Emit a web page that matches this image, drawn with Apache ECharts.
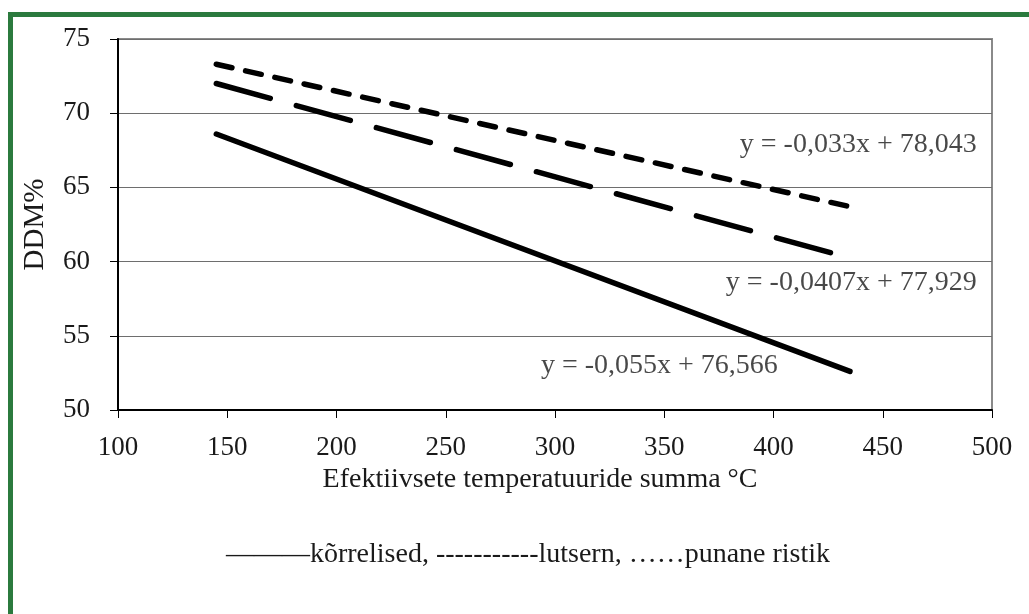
<!DOCTYPE html>
<html>
<head>
<meta charset="utf-8">
<script src="https://cdn.jsdelivr.net/npm/echarts@6/dist/echarts.min.js"></script>
<style>
html,body{margin:0;padding:0;background:#fff;}
#frame{position:absolute;left:8px;top:12px;width:1021px;height:602px;border-left:5px solid #2b7a3e;border-top:5px solid #2b7a3e;box-sizing:border-box;}
#chart{position:absolute;left:0;top:0;width:1029px;height:614px;}
</style>
</head>
<body>
<div id="frame"></div>
<div id="chart"></div>
<script>
// Data (trendline endpoints)
const korrelisedX = [145, 435];
const korrelisedY = [68.6, 52.6];
const lutsernX = [145, 431];
const lutsernY = [72.0, 60.4];
const ristikX = [145, 435];
const ristikY = [73.3, 63.7];

// Equation labels and their anchor (right edge / middle) in data coordinates
const eqTexts = ['y = -0,033x + 78,043', 'y = -0,0407x + 77,929', 'y = -0,055x + 76,566'];
const eqX = [493, 493, 402];
const eqY = [67.85, 58.6, 53.0];

const xTicks = [100, 150, 200, 250, 300, 350, 400, 450, 500];
const yTicks = [50, 55, 60, 65, 70, 75];

const xName = 'Efektiivsete temperatuuride summa °C';
const yName = 'DDM%';
const legendText = '———kõrrelised, -----------lutsern, ……punane ristik';

const FONT = '"Liberation Serif", "DejaVu Serif", serif';
const TXT = '#1a1a1a';

function pairs(xs, ys) { return xs.map((x, i) => [x, ys[i]]); }

const chart = echarts.init(document.getElementById('chart'), null, {renderer: 'canvas'});
chart.setOption({
  backgroundColor: 'transparent',
  animation: false,
  grid: {left: 118, right: 37, top: 39, bottom: 204, show: true, borderColor: '#8a8a8a', borderWidth: 2, backgroundColor: 'transparent'},
  xAxis: {
    type: 'value', min: xTicks[0], max: xTicks[xTicks.length - 1], interval: 50,
    name: xName, nameLocation: 'middle', nameGap: 48,
    nameTextStyle: {fontFamily: FONT, fontSize: 28, color: TXT, padding: [0, 30, 0, 0]},
    axisLine: {show: true, lineStyle: {color: '#000', width: 2}},
    axisTick: {show: true, inside: false, length: 8, lineStyle: {color: '#000', width: 1}},
    axisLabel: {fontFamily: FONT, fontSize: 27, color: TXT, margin: 24},
    splitLine: {show: false}
  },
  yAxis: {
    type: 'value', min: yTicks[0], max: yTicks[yTicks.length - 1], interval: 5,
    name: yName, nameLocation: 'middle', nameGap: 68,
    nameTextStyle: {fontFamily: FONT, fontSize: 29, color: TXT},
    axisLine: {show: true, lineStyle: {color: '#000', width: 2}},
    axisTick: {show: true, inside: false, length: 8, lineStyle: {color: '#000', width: 1}},
    axisLabel: {fontFamily: FONT, fontSize: 27, color: TXT, margin: 28},
    splitLine: {show: true, lineStyle: {color: '#6e6e6e', width: 1}}
  },
  series: [
    {
      name: 'kõrrelised', type: 'line', data: pairs(korrelisedX, korrelisedY),
      symbol: 'none', silent: true,
      lineStyle: {color: '#000', width: 5.5, cap: 'round', type: 'solid'}
    },
    {
      name: 'lutsern', type: 'line', data: pairs(lutsernX, lutsernY),
      symbol: 'none', silent: true,
      lineStyle: {color: '#000', width: 5.5, cap: 'round', type: [56, 27]}
    },
    {
      name: 'punane ristik', type: 'line', data: pairs(ristikX, ristikY),
      symbol: 'none', silent: true,
      lineStyle: {color: '#000', width: 5.5, cap: 'round', type: [16, 14]}
    },
    {
      name: 'equations', type: 'scatter', silent: true,
      symbolSize: 0,
      data: eqTexts.map((t, i) => ({value: [eqX[i], eqY[i]], label: {formatter: t}})),
      label: {show: true, position: 'left', distance: 0, fontFamily: FONT, fontSize: 28, color: TXT}
    }
  ],
  graphic: [
    {
      type: 'text', x: 528, y: 555,
      style: {text: legendText, font: '28px ' + FONT, fill: TXT, textAlign: 'center', textVerticalAlign: 'middle'}
    }
  ]
});
</script>
</body>
</html>
